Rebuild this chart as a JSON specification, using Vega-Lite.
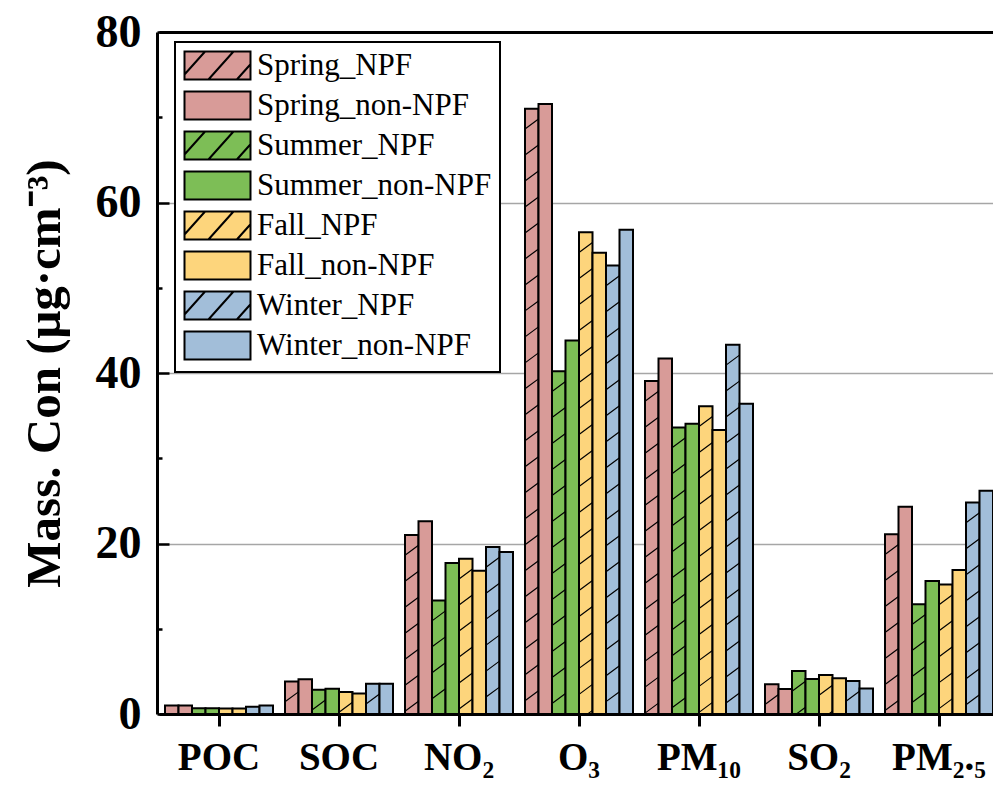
{
  "$schema": "https://vega.github.io/schema/vega-lite/v6.json",
  "width": 836,
  "height": 682,
  "autosize": {"type": "none"},
  "padding": {"left": 157, "top": 32, "right": 0, "bottom": 73},
  "config": {"font": "Liberation Serif", "view": {"stroke": null}},
  "data": {
    "values": [
      {"cat": "POC", "group": "Spring_NPF", "value": 1.0},
      {"cat": "POC", "group": "Spring_non-NPF", "value": 1.0},
      {"cat": "POC", "group": "Summer_NPF", "value": 0.67},
      {"cat": "POC", "group": "Summer_non-NPF", "value": 0.67},
      {"cat": "POC", "group": "Fall_NPF", "value": 0.65},
      {"cat": "POC", "group": "Fall_non-NPF", "value": 0.65},
      {"cat": "POC", "group": "Winter_NPF", "value": 0.85},
      {"cat": "POC", "group": "Winter_non-NPF", "value": 1.0},
      {"cat": "SOC", "group": "Spring_NPF", "value": 3.8},
      {"cat": "SOC", "group": "Spring_non-NPF", "value": 4.07},
      {"cat": "SOC", "group": "Summer_NPF", "value": 2.85},
      {"cat": "SOC", "group": "Summer_non-NPF", "value": 2.97},
      {"cat": "SOC", "group": "Fall_NPF", "value": 2.58},
      {"cat": "SOC", "group": "Fall_non-NPF", "value": 2.4},
      {"cat": "SOC", "group": "Winter_NPF", "value": 3.55},
      {"cat": "SOC", "group": "Winter_non-NPF", "value": 3.55},
      {"cat": "NO₂", "group": "Spring_NPF", "value": 21.0},
      {"cat": "NO₂", "group": "Spring_non-NPF", "value": 22.6},
      {"cat": "NO₂", "group": "Summer_NPF", "value": 13.3},
      {"cat": "NO₂", "group": "Summer_non-NPF", "value": 17.7},
      {"cat": "NO₂", "group": "Fall_NPF", "value": 18.2},
      {"cat": "NO₂", "group": "Fall_non-NPF", "value": 16.8},
      {"cat": "NO₂", "group": "Winter_NPF", "value": 19.6},
      {"cat": "NO₂", "group": "Winter_non-NPF", "value": 19.0},
      {"cat": "O₃", "group": "Spring_NPF", "value": 71.0},
      {"cat": "O₃", "group": "Spring_non-NPF", "value": 71.55},
      {"cat": "O₃", "group": "Summer_NPF", "value": 40.2},
      {"cat": "O₃", "group": "Summer_non-NPF", "value": 43.8},
      {"cat": "O₃", "group": "Fall_NPF", "value": 56.5},
      {"cat": "O₃", "group": "Fall_non-NPF", "value": 54.1},
      {"cat": "O₃", "group": "Winter_NPF", "value": 52.6},
      {"cat": "O₃", "group": "Winter_non-NPF", "value": 56.8},
      {"cat": "PM₁₀", "group": "Spring_NPF", "value": 39.06},
      {"cat": "PM₁₀", "group": "Spring_non-NPF", "value": 41.7},
      {"cat": "PM₁₀", "group": "Summer_NPF", "value": 33.6},
      {"cat": "PM₁₀", "group": "Summer_non-NPF", "value": 34.05},
      {"cat": "PM₁₀", "group": "Fall_NPF", "value": 36.1},
      {"cat": "PM₁₀", "group": "Fall_non-NPF", "value": 33.3},
      {"cat": "PM₁₀", "group": "Winter_NPF", "value": 43.3},
      {"cat": "PM₁₀", "group": "Winter_non-NPF", "value": 36.4},
      {"cat": "SO₂", "group": "Spring_NPF", "value": 3.48},
      {"cat": "SO₂", "group": "Spring_non-NPF", "value": 2.93},
      {"cat": "SO₂", "group": "Summer_NPF", "value": 5.04},
      {"cat": "SO₂", "group": "Summer_non-NPF", "value": 4.1},
      {"cat": "SO₂", "group": "Fall_NPF", "value": 4.57},
      {"cat": "SO₂", "group": "Fall_non-NPF", "value": 4.18},
      {"cat": "SO₂", "group": "Winter_NPF", "value": 3.87},
      {"cat": "SO₂", "group": "Winter_non-NPF", "value": 3.0},
      {"cat": "PM₂.₅", "group": "Spring_NPF", "value": 21.08},
      {"cat": "PM₂.₅", "group": "Spring_non-NPF", "value": 24.3},
      {"cat": "PM₂.₅", "group": "Summer_NPF", "value": 12.87},
      {"cat": "PM₂.₅", "group": "Summer_non-NPF", "value": 15.6},
      {"cat": "PM₂.₅", "group": "Fall_NPF", "value": 15.2},
      {"cat": "PM₂.₅", "group": "Fall_non-NPF", "value": 16.9},
      {"cat": "PM₂.₅", "group": "Winter_NPF", "value": 24.8},
      {"cat": "PM₂.₅", "group": "Winter_non-NPF", "value": 26.2}
    ]
  },
  "layer": [
    {
      "mark": {"type": "bar", "stroke": "black", "strokeWidth": 2},
      "encoding": {
        "x": {
          "field": "cat", "type": "nominal",
          "sort": ["POC", "SOC", "NO₂", "O₃", "PM₁₀", "SO₂", "PM₂.₅"],
          "scale": {"range": [2, 842], "paddingInner": 0.1, "paddingOuter": 0.05},
          "axis": {
            "orient": "bottom", "title": null, "labelAngle": 0,
            "domainColor": "black", "domainWidth": 3,
            "tickColor": "black", "tickWidth": 3, "tickSize": 12,
            "labelFont": "Liberation Serif", "labelFontSize": 39, "labelFontWeight": "bold",
            "labelColor": "black", "labelPadding": 12
          }
        },
        "xOffset": {
          "field": "group", "type": "nominal",
          "sort": ["Spring_NPF", "Spring_non-NPF", "Summer_NPF", "Summer_non-NPF", "Fall_NPF", "Fall_non-NPF", "Winter_NPF", "Winter_non-NPF"],
          "scale": {"paddingInner": 0, "paddingOuter": 0}
        },
        "y": {
          "field": "value", "type": "quantitative",
          "scale": {"domain": [0, 80], "nice": false},
          "axis": {
            "values": [0, 20, 40, 60, 80],
            "title": "Mass. Con (μg·cm⁻³)",
            "titleFont": "Liberation Serif", "titleFontSize": 49, "titleFontWeight": "bold", "titleColor": "black",
            "titlePadding": 26,
            "labelFont": "Liberation Serif", "labelFontSize": 46, "labelFontWeight": "bold", "labelColor": "black",
            "labelPadding": 16,
            "ticks": false,
            "domainColor": "black", "domainWidth": 3,
            "grid": true, "gridColor": "#a6a6a6", "gridWidth": 1.5
          }
        },
        "color": {
          "field": "group", "type": "nominal",
          "sort": ["Spring_NPF", "Spring_non-NPF", "Summer_NPF", "Summer_non-NPF", "Fall_NPF", "Fall_non-NPF", "Winter_NPF", "Winter_non-NPF"],
          "scale": {
            "domain": ["Spring_NPF", "Spring_non-NPF", "Summer_NPF", "Summer_non-NPF", "Fall_NPF", "Fall_non-NPF", "Winter_NPF", "Winter_non-NPF"],
            "range": ["#D89B98", "#D89B98", "#7DBE56", "#7DBE56", "#FDD57C", "#FDD57C", "#A2BED9", "#A2BED9"]
          },
          "legend": {
            "orient": "none", "legendX": 18, "legendY": 10,
            "title": null,
            "strokeColor": "black", "fillColor": "white",
            "padding": 8,
            "labelFont": "Liberation Serif", "labelFontSize": 31, "labelColor": "black", "labelLimit": 400,
            "labelOffset": 43,
            "rowPadding": 3,
            "symbolSize": 784,
            "symbolType": "M-1,-1H3.714V1H-1Z",
            "symbolStrokeColor": "black", "symbolStrokeWidth": 2, "symbolOpacity": 1,
            "encode": {
              "legend": {"update": {"strokeWidth": {"value": 2}}},
              "symbols": {
                "update": {
                  "shape": {"signal": "indexof(datum.value, 'non') < 0 ? 'M-1,-1H3.714V1H-1ZM-1,0.64L0.47,-1M0.71,1L2.5,-1M2.74,1L3.714,-0.09' : 'M-1,-1H3.714V1H-1Z'"}
                }
              }
            }
          }
        }
      }
    },
    {
      "transform": [{"filter": "indexof(datum.group, 'non') < 0"}],
      "mark": {
        "type": "point",
        "shape": "M-1,3L1,1.52M-1,6.85L1,5.37M-1,10.7L1,9.22M-1,14.55L1,13.07M-1,18.4L1,16.92M-1,22.25L1,20.77M-1,26.1L1,24.62M-1,29.95L1,28.47M-1,33.8L1,32.32M-1,37.65L1,36.17M-1,41.5L1,40.02M-1,45.35L1,43.87M-1,49.2L1,47.72M-1,53.05L1,51.57M-1,56.9L1,55.42M-1,60.75L1,59.27M-1,64.6L1,63.12M-1,68.45L1,66.97M-1,72.3L1,70.82M-1,76.15L1,74.67M-1,80L1,78.52M-1,83.85L1,82.37M-1,87.7L1,86.22M-1,91.55L1,90.07",
        "size": 182.25,
        "filled": false,
        "stroke": "black",
        "strokeWidth": 1.2,
        "opacity": 1,
        "clip": true
      },
      "encoding": {
        "x": {
          "field": "cat", "type": "nominal",
          "sort": ["POC", "SOC", "NO₂", "O₃", "PM₁₀", "SO₂", "PM₂.₅"],
          "axis": {
            "orient": "top", "title": null, "labels": false, "ticks": false,
            "domainColor": "black", "domainWidth": 3
          }
        },
        "xOffset": {
          "field": "group", "type": "nominal",
          "sort": ["Spring_NPF", "Spring_non-NPF", "Summer_NPF", "Summer_non-NPF", "Fall_NPF", "Fall_non-NPF", "Winter_NPF", "Winter_non-NPF"]
        },
        "y": {
          "field": "value", "type": "quantitative",
          "axis": {
            "orient": "left",
            "values": [0, 10, 20, 30, 40, 50, 60, 70, 80],
            "title": null, "labels": false, "domain": false, "grid": false,
            "tickColor": "black", "tickWidth": 2.5,
            "tickSize": {"condition": {"test": "datum.value % 20 === 0", "value": -12}, "value": -5}
          }
        }
      }
    }
  ],
  "resolve": {"axis": {"x": "independent", "y": "independent"}}
}
